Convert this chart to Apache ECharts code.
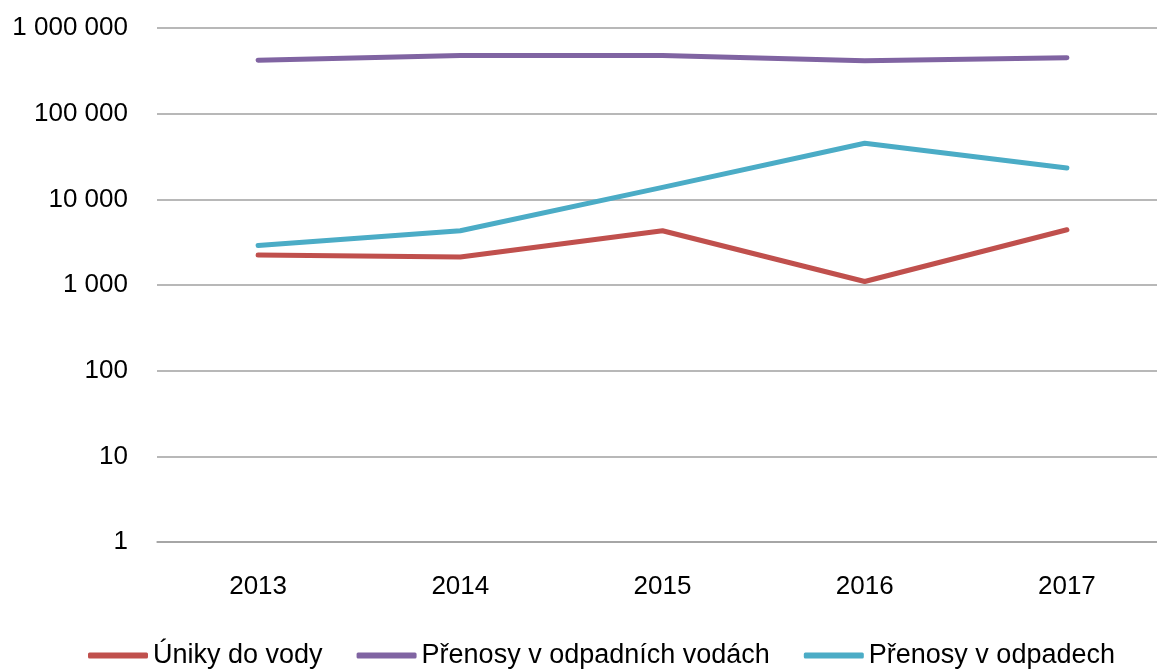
<!DOCTYPE html>
<html>
<head>
    <meta charset="utf-8">
    <title>Úniky a přenosy</title>
    <style>
        html, body { margin: 0; padding: 0; background: #fff; }
    </style>
</head>
<body>
    <div id="main" style="width: 1157px;height:671px;"></div>
    <script src="https://cdn.jsdelivr.net/npm/echarts@6/dist/echarts.min.js"></script>
    <script type="text/javascript">
        // data
        var years = ['2013', '2014', '2015', '2016', '2017'];
        var unikyDoVody = [2240, 2120, 4300, 1100, 4410];
        var prenosyOdpadniVody = [420000, 476000, 476000, 416000, 451000];
        var prenosyOdpady = [2890, 4300, 13800, 45200, 23200];
        var seriesNames = ['Úniky do vody', 'Přenosy v odpadních vodách', 'Přenosy v odpadech'];
        var colors = ['#c0504d', '#8064a2', '#4bacc6'];

        var font = '"Liberation Sans", Arial, sans-serif';

        // 1 000 000 style separator
        function fmt(v) {
            return String(Math.round(v)).replace(/\B(?=(\d{3})+(?!\d))/g, ' ');
        }

        function lineSeries(name, data, color) {
            return {
                name: name,
                type: 'line',
                data: data,
                symbol: 'none',
                lineStyle: { width: 5, color: color, cap: 'round', join: 'round' },
                itemStyle: { color: color }
            };
        }

        var myChart = echarts.init(document.getElementById('main'));
        var option = {
            animation: false,
            color: colors,
            // plot runs a little past the right edge of the canvas
            grid: { left: 157, width: 1011, top: 28, bottom: 129, outerBoundsMode: 'none' },
            legend: {
                left: 83,
                top: 637,
                icon: 'roundRect',
                itemWidth: 60,
                itemHeight: 6,
                itemGap: 34,
                textStyle: { fontFamily: font, fontSize: 27, color: '#000' },
                data: seriesNames
            },
            xAxis: {
                type: 'category',
                data: years,
                axisLine: { show: true, lineStyle: { color: '#a0a0a0', width: 1.5 } },
                axisTick: { show: false },
                axisLabel: { fontFamily: font, fontSize: 26, color: '#000', margin: 32 }
            },
            yAxis: {
                type: 'log',
                logBase: 10,
                min: 1,
                max: 1000000,
                axisLine: { show: false },
                axisTick: { show: false },
                splitLine: { lineStyle: { color: '#a0a0a0', width: 1.5 } },
                axisLabel: {
                    fontFamily: font, fontSize: 26, color: '#000', margin: 29,
                    formatter: fmt
                }
            },
            series: [
                lineSeries(seriesNames[0], unikyDoVody, colors[0]),
                lineSeries(seriesNames[1], prenosyOdpadniVody, colors[1]),
                lineSeries(seriesNames[2], prenosyOdpady, colors[2])
            ]
        };
        myChart.setOption(option);
    </script>
</body>
</html>
